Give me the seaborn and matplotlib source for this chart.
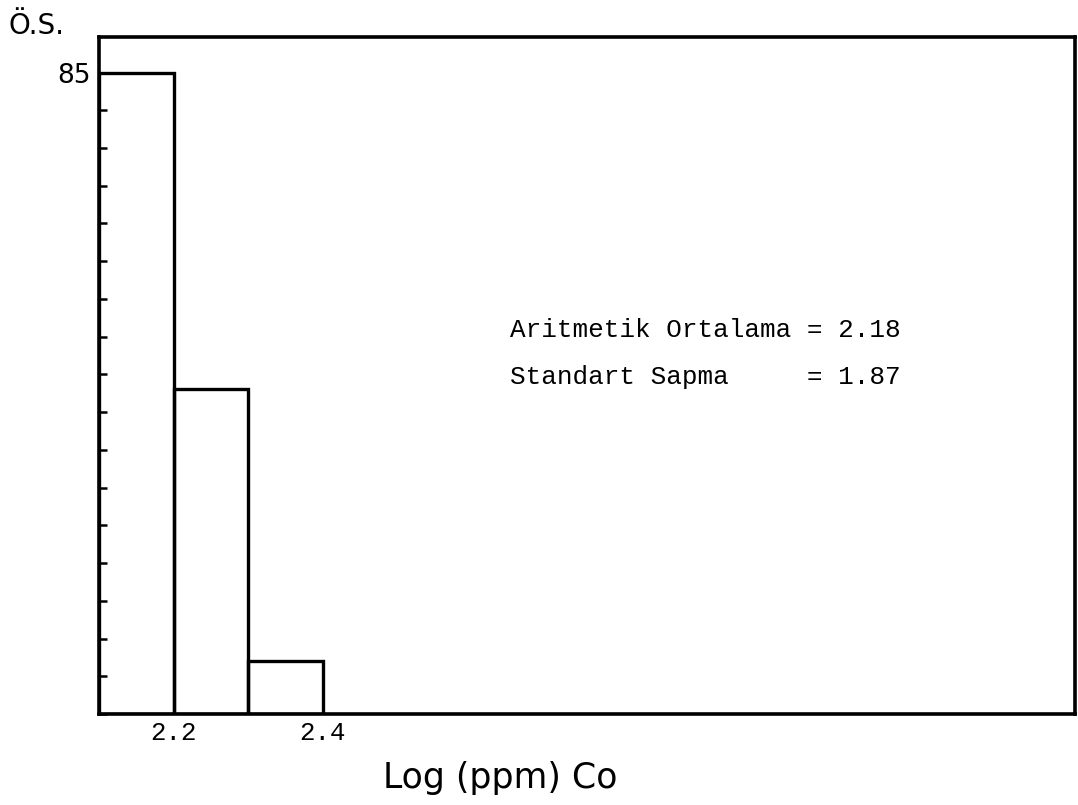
import matplotlib
matplotlib.use("Agg")
import matplotlib.pyplot as plt
import seaborn as sns
import pandas as pd

# ---- data ----
bin_edges = [2.1, 2.2, 2.3, 2.4]
bin_centers = [2.15, 2.25, 2.35]
counts = [85, 43, 7]
x_tick_values = [2.2, 2.4]
x_tick_labels = ["2.2", "2.4"]
y_tick_values = [0, 5, 10, 15, 20, 25, 30, 35, 40, 45, 50, 55, 60, 65, 70, 75, 80, 85]
y_tick_labels = ["", "", "", "", "", "", "", "", "", "", "", "", "", "", "", "", "", "85"]
y_label_text = "Ö.S."
x_label_text = "Log (ppm) Co"
stats_lines = ["Aritmetik Ortalama = 2.18", "Standart Sapma     = 1.87"]

sns.set_theme(style="white")
plt.rcParams['font.family'] = ['DejaVu Sans']
plt.rcParams['text.color'] = 'black'
plt.rcParams['xtick.color'] = 'black'
plt.rcParams['ytick.color'] = 'black'

fig = plt.figure(figsize=(10.78, 8.05), dpi=100)
ax = fig.add_axes([0.0918, 0.113, 0.9054, 0.841])

df = pd.DataFrame({"x": bin_centers, "n": counts})
sns.histplot(data=df, x="x", weights="n", bins=bin_edges, fill=False,
             element="bars", color="black", linewidth=2.4, ax=ax)

ax.set_xlim(2.1, 3.407)
ax.set_ylim(0, 89.7)

for s in ax.spines.values():
    s.set_visible(True)
    s.set_color("black")
    s.set_linewidth(2.6)

ax.set_xticks(x_tick_values)
ax.set_xticklabels(x_tick_labels, family="Liberation Mono", fontsize=18.5, color="black")
ax.tick_params(axis="x", length=0, pad=5, colors="black")

ax.set_yticks(y_tick_values)
ax.set_yticklabels(y_tick_labels, fontsize=19, color="black")
ax.tick_params(axis="y", direction="in", length=6, width=1.8, pad=6,
               colors="black", left=True)

ax.set_xlabel("")
ax.set_ylabel("")

fig.text(0.008, 0.968, y_label_text, fontsize=20, ha="left", va="center", color="black")
fig.text(0.464, 0.0335, x_label_text, fontsize=25, ha="center", va="center", color="black")

fig.text(0.473, 0.590, stats_lines[0], family="Liberation Mono", fontsize=18.7,
         ha="left", va="center", color="black")
fig.text(0.473, 0.532, stats_lines[1], family="Liberation Mono", fontsize=18.7,
         ha="left", va="center", color="black")

fig.savefig("out.png", dpi=100, facecolor="white")
